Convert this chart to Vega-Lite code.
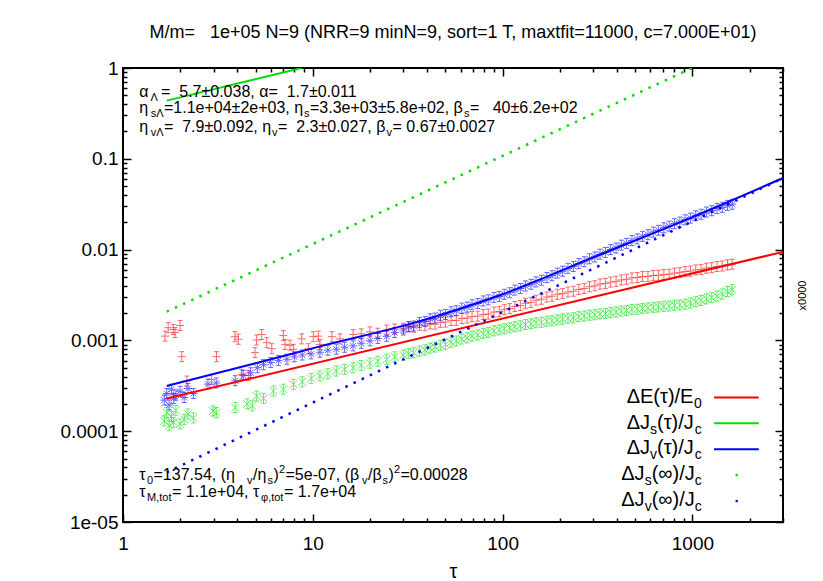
{
  "$schema": "https://vega.github.io/schema/vega-lite/v6.json",
  "width": 660,
  "height": 454,
  "autosize": {"type": "none"},
  "padding": {"left": 123, "top": 68, "right": 40, "bottom": 59},
  "background": "white",
  "config": {"view": {"stroke": "black", "strokeWidth": 2}, "font": "Liberation Sans"},
  "title": {"text": "M/m=\u00a0\u00a0\u00a01e+05 N=9 (NRR=9 minN=9, sort=1 T, maxtfit=11000, c=7.000E+01)", "fontSize": 18, "fontWeight": "normal", "font": "Liberation Sans", "anchor": "middle", "offset": 17, "color": "black"},
  "datasets": {
    "pts": [
      {"s":"E","t":1.665,"v":0.001115},{"s":"E","t":1.73,"v":0.00138},{"s":"E","t":1.84,"v":0.00132},{"s":"E","t":1.88,"v":0.00122},{"s":"E","t":2.0,"v":0.00146},{"s":"E","t":2.04,"v":0.000662},{"s":"E","t":2.17,"v":0.000357},{"s":"E","t":2.93,"v":0.000372},{"s":"E","t":3.11,"v":0.000662},{"s":"E","t":3.89,"v":0.0011},{"s":"E","t":4.05,"v":0.00103},{"s":"E","t":4.22,"v":0.000423},{"s":"E","t":4.57,"v":0.000412},{"s":"E","t":4.96,"v":0.000733},{"s":"E","t":5.06,"v":0.00101},{"s":"E","t":5.38,"v":0.00116},{"s":"E","t":5.72,"v":0.000944},{"s":"E","t":6.08,"v":0.00081},{"s":"E","t":6.99,"v":0.00113},{"s":"E","t":7.14,"v":0.000904},{"s":"E","t":7.58,"v":0.000884},{"s":"E","t":7.9,"v":0.000796},{"s":"E","t":8.74,"v":0.00104},{"s":"E","t":9.48,"v":0.00081},{"s":"E","t":10.06,"v":0.0011},{"s":"E","t":10.7,"v":0.001115},{"s":"E","t":10.9,"v":0.000904},{"s":"E","t":12.6,"v":0.0011},{"s":"E","t":13.9,"v":0.00104},{"s":"E","t":16.3,"v":0.00116},{"s":"E","t":18,"v":0.00118},{"s":"E","t":20,"v":0.00124},{"s":"E","t":22,"v":0.0012},{"s":"E","t":24.5,"v":0.0013},{"s":"E","t":27,"v":0.00133},
      {"s":"E","t":30,"v":0.00136},{"s":"E","t":32,"v":0.00142},{"s":"E","t":34,"v":0.0014},{"s":"E","t":36.5,"v":0.00147},{"s":"E","t":39,"v":0.00145},{"s":"E","t":41.5,"v":0.00152},{"s":"E","t":44,"v":0.00151},{"s":"E","t":47,"v":0.00158},{"s":"E","t":50,"v":0.00159},{"s":"E","t":53.5,"v":0.00166},{"s":"E","t":57,"v":0.00166},{"s":"E","t":61,"v":0.00174},{"s":"E","t":65,"v":0.00176},{"s":"E","t":69,"v":0.00183},{"s":"E","t":74,"v":0.00185},{"s":"E","t":79,"v":0.00193},{"s":"E","t":84,"v":0.00195},{"s":"E","t":90,"v":0.00205},{"s":"E","t":96,"v":0.00208},{"s":"E","t":102,"v":0.00218},{"s":"E","t":109,"v":0.00224},{"s":"E","t":116,"v":0.00236},{"s":"E","t":124,"v":0.00242},{"s":"E","t":132,"v":0.00256},{"s":"E","t":141,"v":0.00262},{"s":"E","t":150,"v":0.00277},{"s":"E","t":160,"v":0.00284},{"s":"E","t":171,"v":0.003},{"s":"E","t":182,"v":0.00307},{"s":"E","t":194,"v":0.00322},{"s":"E","t":207,"v":0.00328},{"s":"E","t":221,"v":0.00341},{"s":"E","t":236,"v":0.00348},{"s":"E","t":252,"v":0.00364},{"s":"E","t":269,"v":0.00373},{"s":"E","t":287,"v":0.0039},{"s":"E","t":306,"v":0.00399},{"s":"E","t":326,"v":0.00417},{"s":"E","t":348,"v":0.00424},{"s":"E","t":371,"v":0.00439},{"s":"E","t":396,"v":0.00447},{"s":"E","t":422,"v":0.00463},{"s":"E","t":450,"v":0.00471},{"s":"E","t":480,"v":0.00488},{"s":"E","t":512,"v":0.00493},{"s":"E","t":546,"v":0.00505},{"s":"E","t":583,"v":0.00507},{"s":"E","t":622,"v":0.00519},{"s":"E","t":663,"v":0.00521},{"s":"E","t":707,"v":0.00533},{"s":"E","t":754,"v":0.00536},{"s":"E","t":805,"v":0.00551},{"s":"E","t":858,"v":0.00557},{"s":"E","t":915,"v":0.00573},{"s":"E","t":976,"v":0.0058},{"s":"E","t":1041,"v":0.00597},{"s":"E","t":1110,"v":0.00605},{"s":"E","t":1184,"v":0.00624},{"s":"E","t":1263,"v":0.00633},{"s":"E","t":1347,"v":0.00651},{"s":"E","t":1437,"v":0.0066},{"s":"E","t":1530,"v":0.0068},{"s":"E","t":1620,"v":0.00691},
      {"s":"Js","t":1.65,"v":0.00013},{"s":"Js","t":1.7,"v":0.00016},{"s":"Js","t":1.75,"v":0.000115},{"s":"Js","t":1.8,"v":0.000145},{"s":"Js","t":1.85,"v":0.000125},{"s":"Js","t":1.9,"v":0.00017},{"s":"Js","t":2.0,"v":0.00012},{"s":"Js","t":2.1,"v":0.000135},{"s":"Js","t":2.2,"v":0.000155},{"s":"Js","t":2.35,"v":0.00014},{"s":"Js","t":2.98,"v":0.000167},{"s":"Js","t":3.1,"v":0.00016},{"s":"Js","t":3.9,"v":0.000182},{"s":"Js","t":4.5,"v":0.0002},{"s":"Js","t":4.8,"v":0.00019},{"s":"Js","t":5.06,"v":0.000244},{"s":"Js","t":5.5,"v":0.00023},{"s":"Js","t":6.2,"v":0.000277},{"s":"Js","t":7.0,"v":0.00029},{"s":"Js","t":7.9,"v":0.000328},{"s":"Js","t":8.8,"v":0.00035},{"s":"Js","t":9.8,"v":0.00038},{"s":"Js","t":10.9,"v":0.000406},{"s":"Js","t":12,"v":0.00043},{"s":"Js","t":13.3,"v":0.00046},{"s":"Js","t":14.7,"v":0.00048},{"s":"Js","t":16.3,"v":0.0005},{"s":"Js","t":18,"v":0.00053},{"s":"Js","t":20,"v":0.00056},{"s":"Js","t":22,"v":0.00059},{"s":"Js","t":24.5,"v":0.00062},{"s":"Js","t":27,"v":0.00066},
      {"s":"Js","t":30,"v":0.00069},{"s":"Js","t":32,"v":0.000715},{"s":"Js","t":34,"v":0.00073},{"s":"Js","t":36.5,"v":0.000765},{"s":"Js","t":39,"v":0.000785},{"s":"Js","t":41.5,"v":0.000825},{"s":"Js","t":44,"v":0.000845},{"s":"Js","t":47,"v":0.000885},{"s":"Js","t":50,"v":0.000905},{"s":"Js","t":53.5,"v":0.000955},{"s":"Js","t":57,"v":0.000985},{"s":"Js","t":61,"v":0.001035},{"s":"Js","t":65,"v":0.001065},{"s":"Js","t":69,"v":0.001115},{"s":"Js","t":74,"v":0.001145},{"s":"Js","t":79,"v":0.001195},{"s":"Js","t":84,"v":0.001225},{"s":"Js","t":90,"v":0.001275},{"s":"Js","t":96,"v":0.001305},{"s":"Js","t":102,"v":0.001345},{"s":"Js","t":109,"v":0.001375},{"s":"Js","t":116,"v":0.001415},{"s":"Js","t":124,"v":0.001445},{"s":"Js","t":132,"v":0.001495},{"s":"Js","t":141,"v":0.001525},{"s":"Js","t":150,"v":0.001565},{"s":"Js","t":160,"v":0.001585},{"s":"Js","t":171,"v":0.001625},{"s":"Js","t":182,"v":0.001645},{"s":"Js","t":194,"v":0.001685},{"s":"Js","t":207,"v":0.001715},{"s":"Js","t":221,"v":0.001755},{"s":"Js","t":236,"v":0.001775},{"s":"Js","t":252,"v":0.001825},{"s":"Js","t":269,"v":0.001855},{"s":"Js","t":287,"v":0.001895},{"s":"Js","t":306,"v":0.001915},{"s":"Js","t":326,"v":0.001955},{"s":"Js","t":348,"v":0.001975},{"s":"Js","t":371,"v":0.002025},{"s":"Js","t":396,"v":0.002055},{"s":"Js","t":422,"v":0.002105},{"s":"Js","t":450,"v":0.002135},{"s":"Js","t":480,"v":0.002185},{"s":"Js","t":512,"v":0.002205},{"s":"Js","t":546,"v":0.002255},{"s":"Js","t":583,"v":0.002275},{"s":"Js","t":622,"v":0.002315},{"s":"Js","t":663,"v":0.002335},{"s":"Js","t":707,"v":0.002375},{"s":"Js","t":754,"v":0.002395},{"s":"Js","t":805,"v":0.002435},{"s":"Js","t":858,"v":0.002455},{"s":"Js","t":915,"v":0.002505},{"s":"Js","t":976,"v":0.002575},{"s":"Js","t":1041,"v":0.002665},{"s":"Js","t":1110,"v":0.002755},{"s":"Js","t":1184,"v":0.002865},{"s":"Js","t":1263,"v":0.002965},{"s":"Js","t":1347,"v":0.003075},{"s":"Js","t":1437,"v":0.003245},{"s":"Js","t":1530,"v":0.003455},{"s":"Js","t":1620,"v":0.003615},
      {"s":"Jv","t":1.65,"v":0.00022},{"s":"Jv","t":1.7,"v":0.00026},{"s":"Jv","t":1.75,"v":0.000195},{"s":"Jv","t":1.8,"v":0.00029},{"s":"Jv","t":1.85,"v":0.00023},{"s":"Jv","t":1.9,"v":0.00025},{"s":"Jv","t":2.0,"v":0.000275},{"s":"Jv","t":2.1,"v":0.000235},{"s":"Jv","t":2.2,"v":0.000295},{"s":"Jv","t":2.35,"v":0.00026},{"s":"Jv","t":2.8,"v":0.00033},{"s":"Jv","t":3.1,"v":0.00034},{"s":"Jv","t":3.9,"v":0.00036},{"s":"Jv","t":4.3,"v":0.00041},{"s":"Jv","t":4.7,"v":0.00044},{"s":"Jv","t":5.1,"v":0.0005},{"s":"Jv","t":5.5,"v":0.00054},{"s":"Jv","t":6.0,"v":0.00057},{"s":"Jv","t":6.6,"v":0.0006},{"s":"Jv","t":7.3,"v":0.00062},{"s":"Jv","t":8.0,"v":0.00066},{"s":"Jv","t":8.8,"v":0.00069},{"s":"Jv","t":9.8,"v":0.00071},{"s":"Jv","t":10.9,"v":0.00074},{"s":"Jv","t":12,"v":0.00078},{"s":"Jv","t":13.3,"v":0.0008},{"s":"Jv","t":14.7,"v":0.00084},{"s":"Jv","t":16.3,"v":0.00087},{"s":"Jv","t":18,"v":0.00093},{"s":"Jv","t":20,"v":0.00099},{"s":"Jv","t":22,"v":0.00105},{"s":"Jv","t":24.5,"v":0.00111},{"s":"Jv","t":27,"v":0.00122},
      {"s":"Jv","t":30,"v":0.0013},{"s":"Jv","t":32,"v":0.00141},{"s":"Jv","t":34,"v":0.00144},{"s":"Jv","t":36.5,"v":0.00158},{"s":"Jv","t":39,"v":0.00161},{"s":"Jv","t":41.5,"v":0.00173},{"s":"Jv","t":44,"v":0.00176},{"s":"Jv","t":47,"v":0.00189},{"s":"Jv","t":50,"v":0.00193},{"s":"Jv","t":53.5,"v":0.00207},{"s":"Jv","t":57,"v":0.00212},{"s":"Jv","t":61,"v":0.00227},{"s":"Jv","t":65,"v":0.00233},{"s":"Jv","t":69,"v":0.00247},{"s":"Jv","t":74,"v":0.00255},{"s":"Jv","t":79,"v":0.00272},{"s":"Jv","t":84,"v":0.0028},{"s":"Jv","t":90,"v":0.00297},{"s":"Jv","t":96,"v":0.00304},{"s":"Jv","t":102,"v":0.00322},{"s":"Jv","t":109,"v":0.00335},{"s":"Jv","t":116,"v":0.00358},{"s":"Jv","t":124,"v":0.00373},{"s":"Jv","t":132,"v":0.00398},{"s":"Jv","t":141,"v":0.00415},{"s":"Jv","t":150,"v":0.00441},{"s":"Jv","t":160,"v":0.0046},{"s":"Jv","t":171,"v":0.00493},{"s":"Jv","t":182,"v":0.00515},{"s":"Jv","t":194,"v":0.00552},{"s":"Jv","t":207,"v":0.00578},{"s":"Jv","t":221,"v":0.00622},{"s":"Jv","t":236,"v":0.00652},{"s":"Jv","t":252,"v":0.00702},{"s":"Jv","t":269,"v":0.00735},{"s":"Jv","t":287,"v":0.00792},{"s":"Jv","t":306,"v":0.00828},{"s":"Jv","t":326,"v":0.0089},{"s":"Jv","t":348,"v":0.0093},{"s":"Jv","t":371,"v":0.0100},{"s":"Jv","t":396,"v":0.0104},{"s":"Jv","t":422,"v":0.0112},{"s":"Jv","t":450,"v":0.0117},{"s":"Jv","t":480,"v":0.0126},{"s":"Jv","t":512,"v":0.0131},{"s":"Jv","t":546,"v":0.0140},{"s":"Jv","t":583,"v":0.0146},{"s":"Jv","t":622,"v":0.0156},{"s":"Jv","t":663,"v":0.0163},{"s":"Jv","t":707,"v":0.0174},{"s":"Jv","t":754,"v":0.0181},{"s":"Jv","t":805,"v":0.0193},{"s":"Jv","t":858,"v":0.0201},{"s":"Jv","t":915,"v":0.0213},{"s":"Jv","t":976,"v":0.0222},{"s":"Jv","t":1041,"v":0.0236},{"s":"Jv","t":1110,"v":0.0245},{"s":"Jv","t":1184,"v":0.0259},{"s":"Jv","t":1263,"v":0.0268},{"s":"Jv","t":1347,"v":0.0283},{"s":"Jv","t":1437,"v":0.0292},{"s":"Jv","t":1530,"v":0.0307},{"s":"Jv","t":1620,"v":0.0316}
    ],
    "fits": [
      {"s":"E","t":1.7,"v":0.000229},{"s":"E","t":3000,"v":0.00944},
      {"s":"Js","t":1.7,"v":0.437},{"s":"Js","t":8.74,"v":1.0},
      {"s":"Jv","t":1.7,"v":0.000315},{"s":"Jv","t":5,"v":0.00056},{"s":"Jv","t":10.9,"v":0.00086},{"s":"Jv","t":36.7,"v":0.00163},{"s":"Jv","t":97.4,"v":0.00316},{"s":"Jv","t":300,"v":0.0082},{"s":"Jv","t":1000,"v":0.0228},{"s":"Jv","t":3000,"v":0.0614}
    ],
    "asym": [
      {"s":"Js","t":1.7,"v":0.00207},{"s":"Js","t":995,"v":1.0},
      {"s":"Jv","t":1.7,"v":0.0000352},{"s":"Jv","t":3000,"v":0.0614}
    ],
    "keys": [
      {"s":"E","t":1300,"t2":2236,"v":0.0002345},
      {"s":"Js","t":1300,"t2":2236,"v":0.0001225},
      {"s":"Jv","t":1300,"t2":2236,"v":0.0000634}
    ],
    "keydots": [
      {"s":"Js","t":1711,"v":0.0000328},
      {"s":"Jv","t":1711,"v":0.000017}
    ],
    "labels": [
      {"g":"a","k":"m","t":1.219,"v":0.484,"txt":"α"},
      {"g":"a","k":"b","t":1.396,"v":0.484,"txt":"Λ"},
      {"g":"a","k":"m","t":1.586,"v":0.484,"txt":"=\u00a0\u00a05.7±0.038, α=\u00a0\u00a01.7±0.011"},
      {"g":"a","k":"m","t":1.219,"v":0.3178,"txt":"η"},
      {"g":"a","k":"b","t":1.399,"v":0.3178,"txt":"sΛ"},
      {"g":"a","k":"m","t":1.644,"v":0.3178,"txt":"=1.1e+04±2e+03, η"},
      {"g":"a","k":"b","t":8.989,"v":0.3178,"txt":"s"},
      {"g":"a","k":"m","t":9.666,"v":0.3178,"txt":"=3.3e+03±5.8e+02, β"},
      {"g":"a","k":"b","t":62.59,"v":0.3178,"txt":"s"},
      {"g":"a","k":"m","t":67.34,"v":0.3178,"txt":"=\u00a0\u00a0\u00a040±6.2e+02"},
      {"g":"a","k":"m","t":1.219,"v":0.1995,"txt":"η"},
      {"g":"a","k":"b","t":1.399,"v":0.1995,"txt":"vΛ"},
      {"g":"a","k":"m","t":1.644,"v":0.1995,"txt":"=\u00a0\u00a07.9±0.092, η"},
      {"g":"a","k":"b","t":6.096,"v":0.1995,"txt":"v"},
      {"g":"a","k":"m","t":6.556,"v":0.1995,"txt":"=\u00a0\u00a02.3±0.027, β"},
      {"g":"a","k":"b","t":24.45,"v":0.1995,"txt":"v"},
      {"g":"a","k":"m","t":26.30,"v":0.1995,"txt":"=\u00a00.67±0.0027"},
      {"g":"a","k":"m","t":1.219,"v":0.0000292,"txt":"τ"},
      {"g":"a","k":"b","t":1.338,"v":0.0000292,"txt":"0"},
      {"g":"a","k":"m","t":1.448,"v":0.0000292,"txt":"=137.54, (η"},
      {"g":"a","k":"b","t":4.501,"v":0.0000292,"txt":"v"},
      {"g":"a","k":"m","t":4.840,"v":0.0000292,"txt":"/η"},
      {"g":"a","k":"b","t":5.772,"v":0.0000292,"txt":"s"},
      {"g":"a","k":"m","t":6.208,"v":0.0000292,"txt":")"},
      {"g":"a","k":"p","t":6.636,"v":0.0000292,"txt":"2"},
      {"g":"a","k":"m","t":7.181,"v":0.0000292,"txt":"=5e-07, (β"},
      {"g":"a","k":"b","t":18.16,"v":0.0000292,"txt":"v"},
      {"g":"a","k":"m","t":19.54,"v":0.0000292,"txt":"/β"},
      {"g":"a","k":"b","t":23.29,"v":0.0000292,"txt":"s"},
      {"g":"a","k":"m","t":25.05,"v":0.0000292,"txt":")"},
      {"g":"a","k":"p","t":26.78,"v":0.0000292,"txt":"2"},
      {"g":"a","k":"m","t":28.98,"v":0.0000292,"txt":"=0.00028"},
      {"g":"a","k":"m","t":1.219,"v":0.0000188,"txt":"τ"},
      {"g":"a","k":"b","t":1.338,"v":0.0000188,"txt":"M,tot"},
      {"g":"a","k":"m","t":1.812,"v":0.0000188,"txt":"= 1.1e+04, τ"},
      {"g":"a","k":"b","t":5.334,"v":0.0000188,"txt":"φ,tot"},
      {"g":"a","k":"m","t":7.052,"v":0.0000188,"txt":"= 1.7e+04"},
      {"g":"l","k":"m","t":450.1,"v":0.0002065,"txt":"ΔE(τ)/E"},
      {"g":"l","k":"b","t":1018.3,"v":0.0002065,"txt":"0"},
      {"g":"l","k":"m","t":450.1,"v":0.000107,"txt":"ΔJ"},
      {"g":"l","k":"b","t":597.9,"v":0.000107,"txt":"s"},
      {"g":"l","k":"m","t":651,"v":0.000107,"txt":"(τ)/J"},
      {"g":"l","k":"b","t":1028.3,"v":0.000107,"txt":"c"},
      {"g":"l","k":"m","t":450.1,"v":0.0000554,"txt":"ΔJ"},
      {"g":"l","k":"b","t":597.9,"v":0.0000554,"txt":"v"},
      {"g":"l","k":"m","t":651,"v":0.0000554,"txt":"(τ)/J"},
      {"g":"l","k":"b","t":1028.3,"v":0.0000554,"txt":"c"},
      {"g":"l","k":"m","t":421.6,"v":0.0000287,"txt":"ΔJ"},
      {"g":"l","k":"b","t":560.1,"v":0.0000287,"txt":"s"},
      {"g":"l","k":"m","t":609.7,"v":0.0000287,"txt":"(∞)/J"},
      {"g":"l","k":"b","t":1028.3,"v":0.0000287,"txt":"c"},
      {"g":"l","k":"m","t":421.6,"v":0.0000149,"txt":"ΔJ"},
      {"g":"l","k":"b","t":560.1,"v":0.0000149,"txt":"v"},
      {"g":"l","k":"m","t":609.7,"v":0.0000149,"txt":"(∞)/J"},
      {"g":"l","k":"b","t":1028.3,"v":0.0000149,"txt":"c"}
    ]
  },
  "layer": [
    {
      "data": {"name": "pts"},
      "mark": {"type": "point", "filled": false, "strokeWidth": 1, "opacity": 0.6, "size": 64},
      "encoding": {
        "x": {"field": "t", "type": "quantitative", "scale": {"type": "log", "domain": [1, 3000]},
          "axis": {"orient": "bottom", "values": [1,2,3,4,5,6,7,8,9,10,20,30,40,50,60,70,80,90,100,200,300,400,500,600,700,800,900,1000,2000,3000],
            "domain": false, "grid": false,
            "labelExpr": "indexof([1,10,100,1000], datum.value) >= 0 ? format(datum.value, 'd') : ''",
            "labelFontSize": 19, "labelFont": "Liberation Sans", "labelColor": "black", "labelPadding": 20, "labelFlush": false, "labelOverlap": false, "labelBound": false,
            "tickColor": "black", "tickWidth": 1.5,
            "tickSize": {"condition": {"test": "indexof([1,10,100,1000], datum.value) >= 0", "value": -8}, "value": -4},
            "title": "τ", "titleFont": "Liberation Sans", "titleFontSize": 20, "titleFontWeight": "normal", "titleColor": "black", "titlePadding": 4}},
        "y": {"field": "v", "type": "quantitative", "scale": {"type": "log", "domain": [0.00001, 1]},
          "axis": {"orient": "left", "values": [0.00001,0.00002,0.00003,0.00004,0.00005,0.00006,0.00007,0.00008,0.00009,0.0001,0.0002,0.0003,0.0004,0.0005,0.0006,0.0007,0.0008,0.0009,0.001,0.002,0.003,0.004,0.005,0.006,0.007,0.008,0.009,0.01,0.02,0.03,0.04,0.05,0.06,0.07,0.08,0.09,0.1,0.2,0.3,0.4,0.5,0.6,0.7,0.8,0.9,1],
            "domain": false, "grid": false,
            "labelExpr": "datum.value === 1 ? '1' : datum.value === 0.1 ? '0.1' : datum.value === 0.01 ? '0.01' : datum.value === 0.001 ? '0.001' : datum.value === 0.0001 ? '0.0001' : datum.value === 0.00001 ? '1e-05' : ''",
            "labelFontSize": 19, "labelFont": "Liberation Sans", "labelColor": "black", "labelPadding": 13, "labelFlush": false, "labelOverlap": false, "labelBound": false,
            "tickColor": "black", "tickWidth": 1.5,
            "tickSize": {"condition": {"test": "indexof([0.00001,0.0001,0.001,0.01,0.1,1], datum.value) >= 0", "value": -8}, "value": -4},
            "title": null}},
        "color": {"field": "s", "type": "nominal", "scale": {"domain": ["E","Js","Jv"], "range": ["#ff0000","#00dd00","#0000ff"]}, "legend": null},
        "shape": {"field": "s", "type": "nominal", "scale": {"domain": ["E","Js","Jv"], "range": [
          "M-1,0L1,0M0,-1.25L0,1.25M-0.6,-1.25L0.6,-1.25M-0.6,1.25L0.6,1.25",
          "M-1,-1L1,1M-1,1L1,-1M0,-1.25L0,1.25M-0.6,-1.25L0.6,-1.25M-0.6,1.25L0.6,1.25",
          "M-1,0L1,0M0,-1.25L0,1.25M-0.75,-0.75L0.75,0.75M-0.75,0.75L0.75,-0.75M-0.6,-1.25L0.6,-1.25M-0.6,1.25L0.6,1.25"]}, "legend": null}
      }
    },
    {
      "data": {"name": "fits"},
      "mark": {"type": "line", "strokeWidth": 2, "interpolate": "monotone", "clip": true},
      "encoding": {
        "x": {"field": "t", "type": "quantitative", "scale": {"type": "log", "domain": [1, 3000]},
          "axis": {"orient": "top", "values": [1,2,3,4,5,6,7,8,9,10,20,30,40,50,60,70,80,90,100,200,300,400,500,600,700,800,900,1000,2000,3000],
            "domain": false, "grid": false, "labels": false, "title": null,
            "tickColor": "black", "tickWidth": 1.5,
            "tickSize": {"condition": {"test": "indexof([1,10,100,1000], datum.value) >= 0", "value": -8}, "value": -4}}},
        "y": {"field": "v", "type": "quantitative", "scale": {"type": "log", "domain": [0.00001, 1]},
          "axis": {"orient": "right", "values": [0.00001,0.00002,0.00003,0.00004,0.00005,0.00006,0.00007,0.00008,0.00009,0.0001,0.0002,0.0003,0.0004,0.0005,0.0006,0.0007,0.0008,0.0009,0.001,0.002,0.003,0.004,0.005,0.006,0.007,0.008,0.009,0.01,0.02,0.03,0.04,0.05,0.06,0.07,0.08,0.09,0.1,0.2,0.3,0.4,0.5,0.6,0.7,0.8,0.9,1],
            "domain": false, "grid": false, "labels": false,
            "tickColor": "black", "tickWidth": 1.5,
            "tickSize": {"condition": {"test": "indexof([0.00001,0.0001,0.001,0.01,0.1,1], datum.value) >= 0", "value": -8}, "value": -4},
            "title": "x0000", "titleAngle": 270, "titleFont": "Liberation Sans", "titleFontSize": 11, "titleFontWeight": "normal", "titleColor": "black", "titlePadding": 24}},
        "color": {"field": "s", "type": "nominal", "scale": {"domain": ["E","Js","Jv"], "range": ["#ff0000","#00dd00","#0000ff"]}, "legend": null}
      }
    },
    {
      "data": {"name": "asym"},
      "mark": {"type": "line", "strokeWidth": 2.5, "strokeDash": [2.5, 6.5], "clip": true},
      "encoding": {
        "x": {"field": "t", "type": "quantitative", "scale": {"type": "log", "domain": [1, 3000]}, "axis": null},
        "y": {"field": "v", "type": "quantitative", "scale": {"type": "log", "domain": [0.00001, 1]}, "axis": null},
        "color": {"field": "s", "type": "nominal", "scale": {"domain": ["E","Js","Jv"], "range": ["#ff0000","#00dd00","#0000ff"]}, "legend": null}
      }
    },
    {
      "data": {"name": "keys"},
      "mark": {"type": "rule", "strokeWidth": 2},
      "encoding": {
        "x": {"field": "t", "type": "quantitative", "scale": {"type": "log", "domain": [1, 3000]}, "axis": null},
        "x2": {"field": "t2"},
        "y": {"field": "v", "type": "quantitative", "scale": {"type": "log", "domain": [0.00001, 1]}, "axis": null},
        "color": {"field": "s", "type": "nominal", "scale": {"domain": ["E","Js","Jv"], "range": ["#ff0000","#00dd00","#0000ff"]}, "legend": null}
      }
    },
    {
      "data": {"name": "keydots"},
      "mark": {"type": "square", "filled": true, "size": 5, "opacity": 1},
      "encoding": {
        "x": {"field": "t", "type": "quantitative", "scale": {"type": "log", "domain": [1, 3000]}, "axis": null},
        "y": {"field": "v", "type": "quantitative", "scale": {"type": "log", "domain": [0.00001, 1]}, "axis": null},
        "color": {"field": "s", "type": "nominal", "scale": {"domain": ["E","Js","Jv"], "range": ["#ff0000","#00dd00","#0000ff"]}, "legend": null}
      }
    },
    {
      "data": {"name": "labels"},
      "transform": [{"filter": "datum.g === 'a' && datum.k === 'm'"}],
      "mark": {"type": "text", "align": "left", "baseline": "alphabetic", "font": "Liberation Sans", "fontSize": 16, "color": "black"},
      "encoding": {
        "x": {"field": "t", "type": "quantitative", "scale": {"type": "log", "domain": [1, 3000]}, "axis": null},
        "y": {"field": "v", "type": "quantitative", "scale": {"type": "log", "domain": [0.00001, 1]}, "axis": null},
        "text": {"field": "txt"}
      }
    },
    {
      "data": {"name": "labels"},
      "transform": [{"filter": "datum.g === 'a' && datum.k === 'b'"}],
      "mark": {"type": "text", "align": "left", "baseline": "alphabetic", "font": "Liberation Sans", "fontSize": 11, "dy": 4, "color": "black"},
      "encoding": {
        "x": {"field": "t", "type": "quantitative", "scale": {"type": "log", "domain": [1, 3000]}, "axis": null},
        "y": {"field": "v", "type": "quantitative", "scale": {"type": "log", "domain": [0.00001, 1]}, "axis": null},
        "text": {"field": "txt"}
      }
    },
    {
      "data": {"name": "labels"},
      "transform": [{"filter": "datum.g === 'a' && datum.k === 'p'"}],
      "mark": {"type": "text", "align": "left", "baseline": "alphabetic", "font": "Liberation Sans", "fontSize": 11, "dy": -7, "color": "black"},
      "encoding": {
        "x": {"field": "t", "type": "quantitative", "scale": {"type": "log", "domain": [1, 3000]}, "axis": null},
        "y": {"field": "v", "type": "quantitative", "scale": {"type": "log", "domain": [0.00001, 1]}, "axis": null},
        "text": {"field": "txt"}
      }
    },
    {
      "data": {"name": "labels"},
      "transform": [{"filter": "datum.g === 'l' && datum.k === 'm'"}],
      "mark": {"type": "text", "align": "left", "baseline": "alphabetic", "font": "Liberation Sans", "fontSize": 20, "color": "black"},
      "encoding": {
        "x": {"field": "t", "type": "quantitative", "scale": {"type": "log", "domain": [1, 3000]}, "axis": null},
        "y": {"field": "v", "type": "quantitative", "scale": {"type": "log", "domain": [0.00001, 1]}, "axis": null},
        "text": {"field": "txt"}
      }
    },
    {
      "data": {"name": "labels"},
      "transform": [{"filter": "datum.g === 'l' && datum.k === 'b'"}],
      "mark": {"type": "text", "align": "left", "baseline": "alphabetic", "font": "Liberation Sans", "fontSize": 14, "dy": 5, "color": "black"},
      "encoding": {
        "x": {"field": "t", "type": "quantitative", "scale": {"type": "log", "domain": [1, 3000]}, "axis": null},
        "y": {"field": "v", "type": "quantitative", "scale": {"type": "log", "domain": [0.00001, 1]}, "axis": null},
        "text": {"field": "txt"}
      }
    }
  ],
  "resolve": {"axis": {"x": "independent", "y": "independent"}}
}
